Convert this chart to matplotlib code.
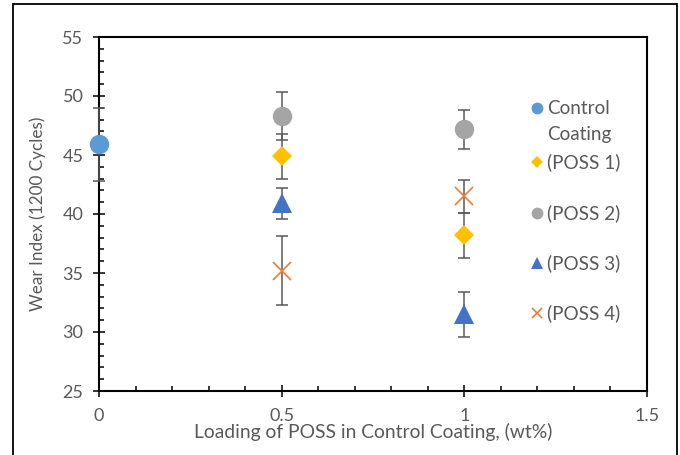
import matplotlib
matplotlib.use("Agg")
import matplotlib.pyplot as plt
from matplotlib.patches import Rectangle
from matplotlib.ticker import MultipleLocator

# ---- data ----
series_names = ["Control\nCoating", "(POSS 1)", "(POSS 2)", "(POSS 3)", "(POSS 4)"]
series_x = [[0.0], [0.5, 1.0], [0.5, 1.0], [0.5, 1.0], [0.5, 1.0]]
series_y = [[45.9], [44.9, 38.2], [48.3, 47.2], [40.9, 31.5], [35.2, 41.5]]
series_err = [[3.1], [1.9, 1.9], [2.0, 1.65], [1.3, 1.9], [2.9, 1.4]]
series_colors = ["#5B9BD5", "#FFC000", "#A5A5A5", "#4472C4", "#ED7D31"]
series_markers = ["o", "D", "o", "^", "x"]
series_msize = [14, 10, 14, 14, 13]
legend_msize = [8.5, 6, 8.5, 8.5, 7.5]
legend_y = [0.7994, 0.6469, 0.5028, 0.3616, 0.2203]

x_ticks = [0, 0.5, 1, 1.5]
x_ticklabels = ["0", "0.5", "1", "1.5"]
y_ticks = [25, 30, 35, 40, 45, 50, 55]

FONT = "Lato"
GRAY = "#595959"
plt.rcParams["font.family"] = [FONT, "DejaVu Sans"]

fig = plt.figure(figsize=(6.8, 4.55), dpi=100)
ax = fig.add_axes([99/680, 1-391/455, 548/680, 354/455])

for x, y, e, c, m, ms in zip(series_x, series_y, series_err, series_colors,
                             series_markers, series_msize):
    ax.errorbar(x, y, yerr=e, fmt="none", ecolor=GRAY, elinewidth=1.1,
                capsize=4.3, capthick=1.1, zorder=3, clip_on=False)
    ax.plot(x, y, linestyle="none", marker=m, markersize=ms, color=c,
            markeredgewidth=1.2 if m == "x" else 0, zorder=4, clip_on=False)

# legend (drawn as axes-fraction markers + text)
for name, c, m, ms, ly in zip(series_names, series_colors, series_markers,
                              legend_msize, legend_y):
    ax.plot([0.799], [ly], transform=ax.transAxes, marker=m, markersize=ms,
            color=c, markeredgewidth=1.2 if m == "x" else 0,
            linestyle="none", clip_on=False)
    for i, ln in enumerate(name.split("\n")):
        ax.text(0.817, ly - i * 0.0762, ln, transform=ax.transAxes,
                fontsize=13.6, color=GRAY, va="center", ha="left")

ax.set_xlim(0, 1.5)
ax.set_ylim(25, 55)
ax.set_xticks(x_ticks)
ax.set_xticklabels(x_ticklabels)
ax.set_yticks(y_ticks)
ax.xaxis.set_minor_locator(MultipleLocator(0.1))
ax.yaxis.set_minor_locator(MultipleLocator(1))

ax.tick_params(axis="both", which="major", direction="inout", length=8.5,
               width=1.1, color="black", labelsize=13, labelcolor=GRAY)
ax.tick_params(axis="y", which="major", pad=7)
ax.tick_params(axis="x", which="major", pad=8)
ax.tick_params(axis="both", which="minor", direction="in", length=3.5,
               width=1.1, color="black")

for s in ax.spines.values():
    s.set_linewidth(1.5)
    s.set_color("black")

ax.set_xlabel("Loading of POSS in Control Coating, (wt%)", fontsize=13.9,
              color=GRAY, labelpad=-1)
ax.set_ylabel("Wear Index (1200 Cycles)", fontsize=12.3, color=GRAY,
              labelpad=12)

# outer chart border
fig.patches.append(Rectangle((13/680, -0.05), 664/680, 1.05 - 4/455,
                             transform=fig.transFigure, fill=False,
                             edgecolor="black", linewidth=1.3))

fig.savefig("out.png", dpi=100)
